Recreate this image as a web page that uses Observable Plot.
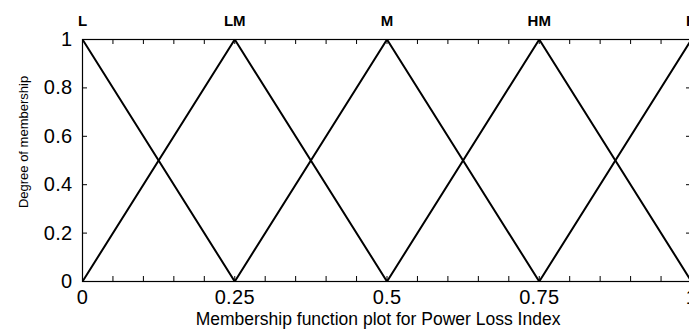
<!DOCTYPE html>
<html>
<head>
<meta charset="utf-8">
<script src="https://cdn.jsdelivr.net/npm/d3@7"></script>
<script src="https://cdn.jsdelivr.net/npm/@observablehq/plot@0.6"></script>
<style>
  html, body { margin: 0; padding: 0; background: #fff; }
  #chart svg { display: block; }
  g[aria-label="x-axis tick label"] text,
  g[aria-label="y-axis tick label"] text { letter-spacing: 0.3px; }
</style>
</head>
<body>
<div id="chart"></div>
<script>
// Triangular membership functions for the Power Loss Index (params a, b, c)
const mfNames = ["L", "LM", "M", "HM", "H"];
const mfParams = [
  [-0.25, 0, 0.25],
  [0, 0.25, 0.5],
  [0.25, 0.5, 0.75],
  [0.5, 0.75, 1],
  [0.75, 1, 1.25]
];

// Axis ticks
const xTickLabels = [0, 0.25, 0.5, 0.75, 1];
const xMinorTicks = [0, 0.05, 0.1, 0.15, 0.2, 0.25, 0.3, 0.35, 0.4, 0.45, 0.5,
                     0.55, 0.6, 0.65, 0.7, 0.75, 0.8, 0.85, 0.9, 0.95, 1];
const yTicks = [0, 0.2, 0.4, 0.6, 0.8, 1];

const xTitle = "Membership function plot for Power Loss Index";
const yTitle = "Degree of membership";

// Vertices of each triangle: (a,0) -> (b,1) -> (c,0)
const vertices = mfNames.flatMap((name, i) => {
  const [a, b, c] = mfParams[i];
  return [
    {name, x: a, mu: 0},
    {name, x: b, mu: 1},
    {name, x: c, mu: 0}
  ];
});
const peaks = mfNames.map((name, i) => ({name, x: mfParams[i][1]}));

const width = 689, height = 329;
const marginLeft = 82, marginRight = -2, marginTop = 39, marginBottom = 48;
const plotW = width - marginLeft - marginRight;
const plotH = height - marginTop - marginBottom;
const tickLen = 5;
const fmt = d => String(d);

const chart = Plot.plot({
  width, height, marginLeft, marginRight, marginTop, marginBottom,
  style: {fontFamily: "'Liberation Sans', Arial, sans-serif", fontSize: "20px", color: "#000", background: "#fff"},
  x: {domain: [0, 1]},
  y: {domain: [0, 1]},
  marks: [
    // inward minor ticks on all four sides
    Plot.tickX(xMinorTicks, {x: d => d, insetTop: plotH - tickLen, stroke: "#000"}),
    Plot.tickX(xMinorTicks, {x: d => d, insetBottom: plotH - tickLen, stroke: "#000"}),
    Plot.tickY(yTicks, {y: d => d, insetRight: plotW - tickLen, stroke: "#000"}),
    Plot.tickY(yTicks, {y: d => d, insetLeft: plotW - tickLen, stroke: "#000"}),
    Plot.axisX({ticks: xTickLabels, tickFormat: fmt, tickSize: 0, tickPadding: 8, fontSize: 20, label: null}),
    Plot.axisY({ticks: yTicks, tickFormat: fmt, tickSize: 0, tickPadding: 10, fontSize: 20, label: null}),
    Plot.frame({stroke: "#000", strokeWidth: 1.2}),
    Plot.line(vertices, {x: "x", y: "mu", z: "name", stroke: "#000", strokeWidth: 2, clip: true}),
    // set names above each peak
    Plot.text(peaks, {x: "x", y: () => 1, text: "name", dy: -18.8, fontWeight: "bold", fontSize: 15}),
    Plot.text([xTitle], {frameAnchor: "bottom", textAnchor: "middle", lineAnchor: "middle", dx: -9, dy: 37.5, fontSize: 17.5}),
    Plot.text([yTitle], {frameAnchor: "left", textAnchor: "middle", lineAnchor: "middle", rotate: -90, dx: -58.5, dy: -18.5, fontSize: 13})
  ]
});

document.getElementById("chart").append(chart);
</script>
</body>
</html>
